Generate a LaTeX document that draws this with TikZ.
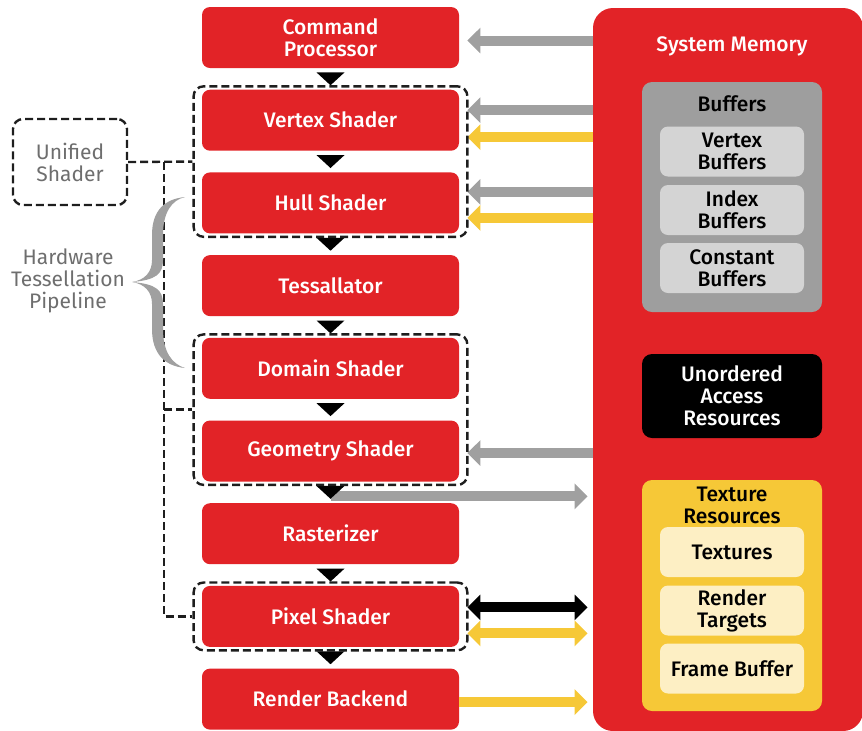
\documentclass[tikz,border=0pt]{standalone}
\usepackage{fontspec}
\setmainfont{Fira Sans Medium}
\newfontfamily\plainfont{Fira Sans}
\usetikzlibrary{arrows.meta, fit, calc}
\definecolor{amdred}{RGB}{226,35,39}
\definecolor{arrgray}{RGB}{160,160,160}
\definecolor{arryellow}{RGB}{246,200,55}
\definecolor{bufgray}{RGB}{158,158,158}
\definecolor{buflight}{RGB}{212,212,212}
\definecolor{texlight}{RGB}{253,239,196}
\definecolor{labelgray}{RGB}{110,110,110}
\definecolor{dashgray}{RGB}{30,30,30}

\begin{document}
\begin{tikzpicture}[x=0.5pt, y=-0.5pt, font=\fontsize{10.5}{11}\selectfont,
    >={Triangle[length=6.5pt,width=12.5pt]},
    stage/.style={fill=amdred, rounded corners=4pt, minimum width=128.5pt,
      minimum height=30.5pt, inner sep=0pt, text=white, align=center},
    shadergroup/.style={draw=dashgray, line width=1.2pt, dash pattern=on 4pt off 2pt,
      rounded corners=5pt, inner xsep=4pt, inner ysep=1.5pt},
    dashlink/.style={draw=dashgray, line width=1.2pt, dash pattern=on 4pt off 2pt},
    bufitem/.style={rounded corners=4pt, minimum width=72pt, minimum height=25pt,
      inner sep=0pt, align=center},
    sidelabel/.style={align=center, text=labelgray, font=\plainfont\fontsize{10.5}{11}\selectfont},
    garrow/.style={arrgray, line width=5pt, ->},
    yarrow/.style={arryellow, line width=5pt, ->}]
    \useasboundingbox (0,0) rectangle (862,730);

    % pipeline stages
    \foreach \nm/\txt [count=\i from 0] in {cp/{Command\\Processor}, vs/Vertex Shader,
        hs/Hull Shader, ts/Tessallator, ds/Domain Shader, gs/Geometry Shader,
        rs/Rasterizer, ps/Pixel Shader, rb/Render Backend}
      \node[stage] (\nm) at (330.5, {37.5+82.7*\i}) {\txt};

    % system memory
    \node[fill=amdred, rounded corners=10pt, minimum width=135pt, minimum height=361.5pt,
      inner sep=0pt] (mem) at (728,369.5) {};
    \node[text=white] (memtitle) at (732,46) {System Memory};

    \node[fill=bufgray, rounded corners=5pt, minimum width=90pt, minimum height=115pt] (buf) at (732,197) {};
    \node (buftitle) at (732,104) {Buffers};
    \node[bufitem, fill=buflight] (vb) at (732,151.5) {Vertex\\Buffers};
    \node[bufitem, fill=buflight] (ib) at (732,210) {Index\\Buffers};
    \node[bufitem, fill=buflight] (cb) at (732,268) {Constant\\Buffers};

    \node[fill=black, text=white, rounded corners=5pt, minimum width=90pt, minimum height=42pt,
      align=center] (uar) at (732,396) {Unordered\\Access\\Resources};

    \node[fill=arryellow, rounded corners=5pt, minimum width=90pt, minimum height=115.5pt] (tex) at (732,595.5) {};
    \node[align=center] (textitle) at (732,505) {Texture\\Resources};
    \node[bufitem, fill=texlight] (tx) at (732,552) {Textures};
    \node[bufitem, fill=texlight] (rt) at (732,610.5) {Render\\Targets};
    \node[bufitem, fill=texlight] (fb) at (732,668.5) {Frame Buffer};

    % memory to stages
    \foreach \nm/\dy/\sty in {cp/3/garrow, vs/-10/garrow, vs/17/yarrow,
        hs/-11/garrow, hs/15/yarrow, gs/2/garrow} {
      \coordinate (tip) at ($(\nm.east)+(8,\dy)$);
      \draw[\sty] (tip -| mem.west) -- (tip);
    }
    \coordinate (gout) at ($(gs.south)!0.5!(rs.north)+(0,4)$);
    \draw[garrow] (gout) -- ($(gout -| mem.west)+(-5,0)$);
    \coordinate (pa) at ($(ps.east)+(8,-9)$);
    \draw[black, line width=5pt, <->] (pa) -- ($(pa -| mem.west)+(-5,0)$);
    \coordinate (pb) at ($(ps.east)+(8,17)$);
    \draw[yarrow, <->] (pb) -- ($(pb -| mem.west)+(-5,0)$);
    \coordinate (rbo) at ($(rb.east)+(0,3)$);
    \draw[yarrow] (rbo) -- ($(rbo -| mem.west)+(-5,0)$);

    % flow triangles
    \foreach \a/\b in {cp/vs, vs/hs, hs/ts, ts/ds, ds/gs, gs/rs, rs/ps, ps/rb}
      \fill ($(\a.south)+(-14,4)$) -- ($(\a.south)+(14,4)$) -- ($(\b.north)+(0,-4)$) -- cycle;

    % unified shader groups
    \node[shadergroup, fit=(vs)(hs)] (gvh) {};
    \node[shadergroup, fit=(ds)(gs)] (gdg) {};
    \node[shadergroup, fit=(ps)] (gps) {};
    \node[sidelabel, draw=dashgray, line width=1.2pt, dash pattern=on 4pt off 2pt, rounded corners=5pt,
      minimum width=57pt, minimum height=43pt] (us) at (70,162) {Unified\\Shader};
    \draw[dashlink] (us.east) -- (gvh.west);
    \coordinate (bus) at (164,162);
    \draw[dashlink] (bus) |- (gps.west);
    \draw[dashlink] (bus |- gdg.west) -- (gdg.west);

    % tessellation brace
    \fill[arrgray] (185,197) .. controls (165,199) and (152,210) .. (152,235) -- (152,260)
      .. controls (152,272) and (145,280) .. (132,282) .. controls (145,284) and (152,292) .. (152,304)
      -- (152,329) .. controls (152,354) and (165,366) .. (185,368)
      .. controls (172,364) and (163,352) .. (163,329) -- (163,304)
      .. controls (163,290) and (156,284) .. (132,282) .. controls (156,280) and (163,274) .. (163,260)
      -- (163,235) .. controls (163,212) and (172,200) .. (185,197) -- cycle;
    \node[sidelabel] (hw) at (68,281) {Hardware\\Tessellation\\Pipeline};
\end{tikzpicture}
\end{document}
